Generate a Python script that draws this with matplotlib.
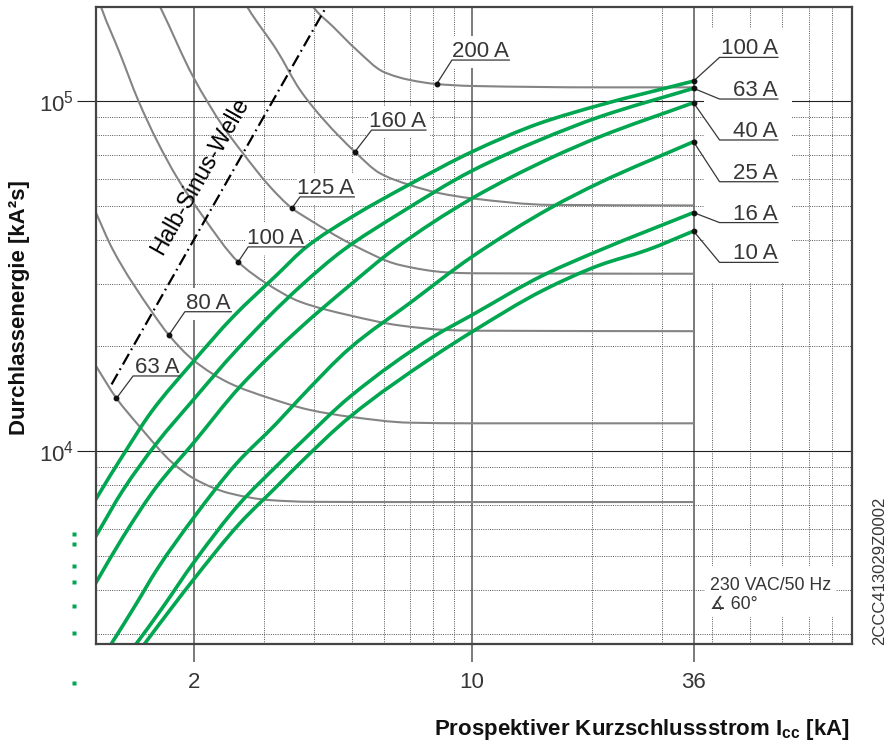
import matplotlib
matplotlib.use("Agg")
import numpy as np
import matplotlib.pyplot as plt
import matplotlib.ticker as mticker
from matplotlib.patches import Rectangle, PathPatch
from matplotlib.path import Path
from matplotlib.lines import Line2D

plt.rcParams["font.family"] = ["Liberation Sans", "DejaVu Sans"]
plt.rcParams["mathtext.fontset"] = "custom"
plt.rcParams["mathtext.rm"] = "Liberation Sans"
plt.rcParams["mathtext.bf"] = "Liberation Sans:bold"
plt.rcParams["mathtext.it"] = "Liberation Sans:italic"

# ---------------------------------------------------------------------------
# Let-through energy of the miniature circuit breakers (green), kA / A²s
# ---------------------------------------------------------------------------
mcb_10A_x = [1.448, 1.508, 1.743, 1.994, 2.613, 3.23, 3.70, 4.94, 7.99, 10, 15.1, 20.97, 27.5, 36]
mcb_10A_y = [2.65e3, 2.82e3, 3.51e3, 4.28e3, 6.22e3, 7.91e3, 9.24e3, 1.253e4, 1.86e4, 2.19e4, 2.88e4, 3.40e4, 3.75e4, 4.25e4]

mcb_16A_x = [1.382, 1.437, 1.676, 1.994, 2.613, 3.23, 3.70, 4.94, 7.99, 10, 15.1, 20.97, 36]
mcb_16A_y = [2.66e3, 2.82e3, 3.59e3, 4.78e3, 7.09e3, 9.06e3, 1.052e4, 1.43e4, 2.12e4, 2.447e4, 3.18e4, 3.75e4, 4.80e4]

mcb_25A_x = [1.196, 1.244, 1.437, 1.614, 1.994, 2.564, 3.23, 3.70, 4.94, 6.99, 10, 15.7, 20.97, 36]
mcb_25A_y = [2.63e3, 2.82e3, 3.67e3, 4.57e3, 6.42e3, 9.22e3, 1.20e4, 1.417e4, 1.97e4, 2.65e4, 3.59e4, 4.94e4, 5.85e4, 7.65e4]

mcb_40A_x = [1.097, 1.14, 1.33, 1.614, 1.994, 2.613, 3.70, 4.94, 6.33, 10, 15.7, 20.97, 36]
mcb_40A_y = [3.93e3, 4.23e3, 5.69e3, 7.91e3, 1.052e4, 1.526e4, 2.246e4, 2.98e4, 3.75e4, 5.27e4, 6.86e4, 7.91e4, 9.89e4]

mcb_63A_x = [1.097, 1.14, 1.33, 1.614, 1.994, 2.564, 3.70, 4.75, 6.59, 10, 14.8, 20.97, 36]
mcb_63A_y = [5.34e3, 5.75e3, 7.74e3, 1.052e4, 1.399e4, 1.944e4, 2.95e4, 3.75e4, 4.78e4, 6.32e4, 7.74e4, 9.02e4, 1.087e5]

mcb_100A_x = [1.097, 1.14, 1.33, 1.567, 1.994, 2.513, 3.23, 3.84, 5.03, 6.99, 10, 14.8, 20.97, 36]
mcb_100A_y = [6.8e3, 7.33e3, 9.74e3, 1.295e4, 1.80e4, 2.42e4, 3.18e4, 3.83e4, 4.69e4, 5.79e4, 7.16e4, 8.64e4, 9.74e4, 1.14e5]

mcb_labels = ["10 A", "16 A", "25 A", "40 A", "63 A", "100 A"]
mcb_series = [(mcb_10A_x, mcb_10A_y), (mcb_16A_x, mcb_16A_y), (mcb_25A_x, mcb_25A_y),
              (mcb_40A_x, mcb_40A_y), (mcb_63A_x, mcb_63A_y), (mcb_100A_x, mcb_100A_y)]

# ---------------------------------------------------------------------------
# Let-through energy of the back-up fuses (grey)
# ---------------------------------------------------------------------------
fuse_63A_x = [1.097, 1.14, 1.28, 1.465, 1.776, 2.034, 2.466, 3.11, 3.92, 6.59, 36]
fuse_63A_y = [1.87e4, 1.741e4, 1.415e4, 1.173e4, 9.22e3, 8.26e3, 7.57e3, 7.24e3, 7.16e3, 7.15e3, 7.15e3]

fuse_80A_x = [1.097, 1.129, 1.255, 1.582, 1.733, 1.994, 2.466, 3.11, 3.92, 4.94, 6.99, 10, 36]
fuse_80A_y = [5.24e4, 4.88e4, 3.75e4, 2.47e4, 2.145e4, 1.82e4, 1.561e4, 1.415e4, 1.31e4, 1.253e4, 1.205e4, 1.20e4, 1.20e4]

fuse_100A_x = [1.156, 1.174, 1.305, 1.450, 1.614, 1.811, 2.113, 2.587, 3.05, 3.70, 4.94, 6.59, 8.64, 10, 36]
fuse_100A_y = [1.94e5, 1.84e5, 1.369e5, 1.007e5, 7.74e4, 6.08e4, 4.67e4, 3.47e4, 3.01e4, 2.67e4, 2.44e4, 2.284e4, 2.217e4, 2.207e4, 2.20e4]

fuse_125A_x = [1.616, 1.654, 1.994, 2.372, 2.66, 3.11, 3.53, 3.92, 4.94, 6.59, 8.64, 10, 36]
fuse_125A_y = [1.94e5, 1.84e5, 1.173e5, 8.45e4, 7.09e4, 5.69e4, 4.94e4, 4.57e4, 3.92e4, 3.40e4, 3.24e4, 3.22e4, 3.21e4]

fuse_160A_x = [2.67, 2.74, 3.23, 3.70, 4.27, 5.08, 5.87, 6.99, 8.31, 10, 15.7, 36]
fuse_160A_y = [1.94e5, 1.84e5, 1.40e5, 1.075e5, 8.77e4, 7.16e4, 6.22e4, 5.75e4, 5.45e4, 5.27e4, 5.05e4, 5.03e4]

fuse_200A_x = [3.80, 3.99, 4.48, 5.13, 5.99, 6.99, 8.15, 10, 20.97, 36]
fuse_200A_y = [2.08e5, 1.86e5, 1.63e5, 1.40e5, 1.212e5, 1.148e5, 1.118e5, 1.104e5, 1.094e5, 1.094e5]

fuse_labels = ["63 A", "80 A", "100 A", "125 A", "160 A", "200 A"]
fuse_series = [(fuse_63A_x, fuse_63A_y), (fuse_80A_x, fuse_80A_y), (fuse_100A_x, fuse_100A_y),
               (fuse_125A_x, fuse_125A_y), (fuse_160A_x, fuse_160A_y), (fuse_200A_x, fuse_200A_y)]
# points on each fuse curve where its label is attached
fuse_mark_x = [1.28, 1.733, 2.587, 3.53, 5.08, 8.15]
fuse_mark_y = [1.415e4, 2.145e4, 3.47e4, 4.94e4, 7.16e4, 1.118e5]

# half sine wave reference line
halfwave_x = [1.244, 4.5]
halfwave_y = [1.55e4, 2.03e5]

x_ticks = [2, 10, 36]
x_ticklabels = ["2", "10", "36"]
y_ticks = [1e4, 1e5]
y_ticklabels = [r"$\mathregular{10^4}$", r"$\mathregular{10^5}$"]

# ---------------------------------------------------------------------------
W, H = 891, 744
fig = plt.figure(figsize=(W / 100, H / 100), dpi=100)
ax = fig.add_axes([96 / W, 100 / H, 756 / W, 637 / H])
ax.set_xscale("log")
ax.set_yscale("log")
XLIM = (1.137, 90)
YLIM = (2.81e3, 1.856e5)
ax.set_xlim(*XLIM)
ax.set_ylim(*YLIM)

GREEN = "#00a650"
GREY = "#848484"
INK = "#363636"

ax.set_xticks(x_ticks)
ax.set_xticklabels(x_ticklabels)
ax.set_yticks(y_ticks)
ax.set_yticklabels(y_ticklabels)
ax.xaxis.set_minor_locator(mticker.FixedLocator([3, 4, 5, 6, 7, 8, 9, 20, 30, 40, 50, 60, 70, 80]))
ax.yaxis.set_minor_locator(mticker.FixedLocator(
    [3e3, 4e3, 5e3, 6e3, 7e3, 8e3, 9e3, 2e4, 3e4, 4e4, 5e4, 6e4, 7e4, 8e4, 9e4]))
ax.xaxis.set_minor_formatter(mticker.NullFormatter())
ax.yaxis.set_minor_formatter(mticker.NullFormatter())

ax.set_axisbelow(True)
ax.xaxis.grid(True, which="major", color="#7a7a7a", lw=1.4)
ax.yaxis.grid(True, which="major", color="#222222", lw=0.8)
ax.grid(True, which="minor", color="#555555", lw=0.7, linestyle=(0, (1, 1.3)))

ax.tick_params(axis="x", which="major", length=13, width=1.4, color="#7a7a7a",
               pad=7, labelsize=16, labelcolor=INK)
ax.tick_params(axis="y", which="major", length=14, width=0.8, color="#222222",
               pad=2, labelsize=16, labelcolor=INK)
ax.tick_params(which="minor", length=0)
for sp in ax.spines.values():
    sp.set_color("#444444")
    sp.set_linewidth(1.6)
    sp.set_zorder(6)


def smooth_curve(xs, ys, **kw):
    """Draw a smooth monotone cubic through the points (in log-log space)."""
    lx = np.log10(np.asarray(xs, float))
    ly = np.log10(np.asarray(ys, float))
    h = np.diff(lx)
    d = np.diff(ly) / h
    m = np.empty_like(lx)
    m[0], m[-1] = d[0], d[-1]
    for k in range(1, len(lx) - 1):
        if d[k - 1] * d[k] <= 0:
            m[k] = 0.0
        else:
            w1 = 2 * h[k] + h[k - 1]
            w2 = h[k] + 2 * h[k - 1]
            m[k] = (w1 + w2) / (w1 / d[k - 1] + w2 / d[k])
    verts = [(lx[0], ly[0])]
    codes = [Path.MOVETO]
    for k in range(len(h)):
        verts += [(lx[k] + h[k] / 3, ly[k] + m[k] * h[k] / 3),
                  (lx[k + 1] - h[k] / 3, ly[k + 1] - m[k + 1] * h[k] / 3),
                  (lx[k + 1], ly[k + 1])]
        codes += [Path.CURVE4] * 3
    verts = 10 ** np.array(verts)
    patch = PathPatch(Path(verts, codes), facecolor="none", **kw)
    ax.add_patch(patch)
    return patch


def fig_box(x0, y0, x1, y1):
    """White masking box given in figure pixels (origin top-left)."""
    r = Rectangle((x0 / W, 1 - y1 / H), (x1 - x0) / W, (y1 - y0) / H,
                  transform=fig.transFigure, facecolor="white", edgecolor="none", zorder=1.5)
    ax.add_patch(r)


# label column on the right and the note box
fig_box(704, 28, 792, 283)
fig_box(705, 566, 836, 617)

# curves
for xs, ys in fuse_series:
    smooth_curve(xs, ys, edgecolor=GREY, lw=1.5, zorder=2, capstyle="butt")
for xs, ys in mcb_series:
    smooth_curve(xs, ys, edgecolor=GREEN, lw=2.6, zorder=3, capstyle="butt")

ax.plot(halfwave_x, halfwave_y, color="black", lw=1.6, dashes=[5.5, 2, 0.8, 2], zorder=2.5)
ax.text(2.07, 6.1e4, "Halb-Sinus-Welle", rotation=60.5, rotation_mode="anchor",
        ha="center", va="center", fontsize=16.5, color="black", zorder=4)

ax.set_xlim(*XLIM)
ax.set_ylim(*YLIM)


def tagged(x, y, dx, dy, length, text, mask=False):
    p0 = ax.transData.transform((x, y))
    disp = np.array([p0, p0 + [dx, dy], p0 + [dx + length, dy]])
    pts = ax.transData.inverted().transform(disp)
    if mask:
        lo = ax.transData.inverted().transform(p0 + [dx - 3, dy - 8])
        hi = ax.transData.inverted().transform(p0 + [dx + length + 3, dy + 24])
        ax.add_patch(Rectangle((lo[0], lo[1]), hi[0] - lo[0], hi[1] - lo[1],
                               facecolor="white", edgecolor="none", zorder=1.5))
    ax.plot(pts[:, 0], pts[:, 1], color=INK, lw=0.9, zorder=4, solid_capstyle="butt")
    ax.plot([x], [y], marker="o", ms=3.2, color="#111111", zorder=5)
    ax.annotate(text, xy=pts[2], xytext=(-1, 3), textcoords="offset pixels",
                ha="right", va="baseline", fontsize=16, color=INK, zorder=5)


# fuse labels: (elbow dx, elbow dy, underline length) in pixels
fuse_tag_geom = [(16.6, 22.3, 47), (16, 23.3, 47), (10, 15, 57),
                 (8, 11.3, 55), (16.7, 21.7, 55), (15.3, 24, 58)]
for lab, mx, my, g in zip(fuse_labels, fuse_mark_x, fuse_mark_y, fuse_tag_geom):
    tagged(mx, my, g[0], g[1], g[2], lab, mask=True)

# breaker labels at the 36 kA end of each curve
mcb_tag_dy = [-31.3, -10, -40, -37.3, -10.7, 23.7]
for lab, (xs, ys), dy in zip(mcb_labels, mcb_series, mcb_tag_dy):
    tagged(xs[-1], ys[-1], 26, dy, 59, lab)

ax.set_xlim(*XLIM)
ax.set_ylim(*YLIM)

# note
fig.text(710 / W, 1 - 590 / H, "230 VAC/50 Hz", fontsize=12.8, color=INK, va="baseline")
fig.text(710 / W, 1 - 609 / H, "∡ 60°", fontsize=12.8, color=INK, va="baseline")

# axis titles
fig.text(850 / W, 9 / H, r"Prospektiver Kurzschlussstrom $\mathbf{I}_{\mathbf{cc}}$ [kA]",
         ha="right", va="baseline", fontsize=16, fontweight="bold", color="#111111")
fig.text(20 / W, 1 - 308 / H, "Durchlassenergie [kA²s]", rotation=90,
         ha="center", va="center", fontsize=16, fontweight="bold", color="#111111")
fig.text(880 / W, 1 - 571 / H, "2CCC413029Z0002", rotation=90,
         ha="center", va="center", fontsize=12, color=INK)

# small green marks in the left margin
mark_rows = [534, 544, 566, 582, 606, 633, 683]
fig.add_artist(Line2D([74 / W] * len(mark_rows), [1 - r / H for r in mark_rows],
                      transform=fig.transFigure, ls="none", marker="s", ms=2.8,
                      color=GREEN, mec="none"))

fig.savefig("out.png", dpi=100)
